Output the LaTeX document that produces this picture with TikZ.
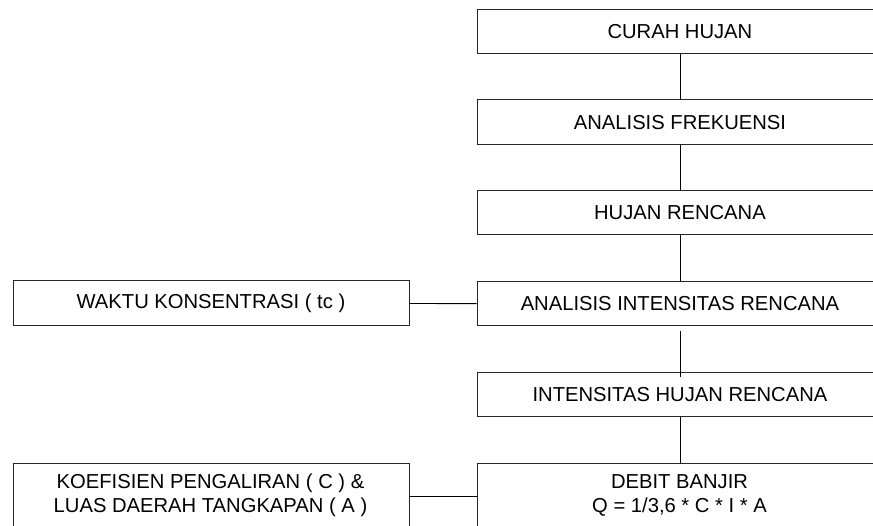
\documentclass[tikz,border=0pt]{standalone}
\usepackage{fontspec}
\setmainfont{Liberation Sans}
\begin{document}
\begin{tikzpicture}[x=1pt,y=-1pt,
  box/.style={draw=black!85,line width=0.9pt,rectangle,inner sep=0pt,font=\fontsize{20.2}{24}\selectfont,align=center},
  txt/.style={font=\fontsize{20.2}{24}\selectfont,align=center},
  conn/.style={draw=black,line width=0.9pt}]
\useasboundingbox (0,0) rectangle (873,526);
\clip (0,0) rectangle (873,526);
\fill[white] (0,0) rectangle (873,526);
\node[box,minimum width=406pt,minimum height=44.5pt,anchor=north west] (b1) at (476.5,9) {CURAH HUJAN};
\node[box,minimum width=406pt,minimum height=44.5pt,anchor=north west] (b2) at (476.5,99.5) {ANALISIS FREKUENSI};
\node[box,minimum width=406pt,minimum height=44.5pt,anchor=north west] (b3) at (476.5,190) {HUJAN RENCANA};
\node[box,minimum width=406pt,minimum height=44.5pt,anchor=north west] (b4) at (476.5,281) {ANALISIS INTENSITAS RENCANA};
\node[box,minimum width=406pt,minimum height=44.5pt,anchor=north west] (b5) at (476.5,372) {INTENSITAS HUJAN RENCANA};
\node[box,minimum width=406pt,minimum height=70pt,anchor=north west] (b6) at (476.5,462.5) {};
\node[box,minimum width=396pt,minimum height=45pt,anchor=north west] (w) at (12.5,280.5) {WAKTU KONSENTRASI ( tc )};
\node[box,minimum width=396pt,minimum height=70pt,anchor=north west] (k) at (12.5,462.5) {};
\node[txt] (ktext) at (210.5,495.5) {KOEFISIEN PENGALIRAN ( C ) \&\\LUAS DAERAH TANGKAPAN ( A )};
\node[txt] (dtext) at (679.5,495.5) {DEBIT BANJIR\\Q = 1/3,6 * C * I * A};
\draw[conn] (b1.south) -- (b2.north);
\draw[conn] (b2.south) -- (b3.north);
\draw[conn] (b3.south) -- (b4.north);
\draw[conn] ([yshift=-5pt]b4.south) -- ([yshift=-5pt]b5.north);
\draw[conn] (b5.south) -- (b6.north);
\draw[conn] (w.east) -- (b4.west);
\draw[conn] (k.east |- 0,496.5) -- (b6.west |- 0,496.5);
\end{tikzpicture}
\end{document}
